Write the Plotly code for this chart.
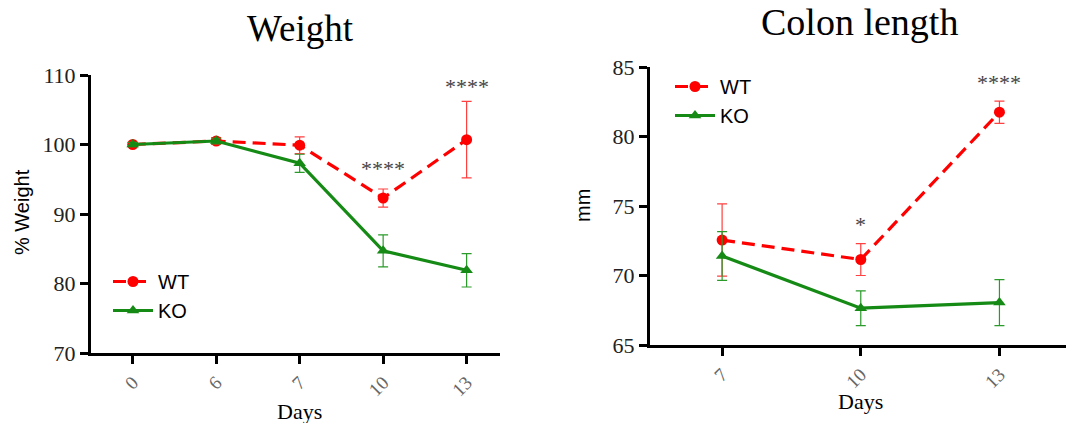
import plotly.graph_objects as go

# ---- data ----
weight_days = ["0", "6", "7", "10", "13"]
weight_wt = [100.0, 100.5, 99.9, 92.3, 100.7]
weight_wt_err = [0.3, 0.5, 1.2, 1.3, 5.5]
weight_ko = [100.0, 100.5, 97.3, 84.7, 81.9]
weight_ko_err = [0.3, 0.4, 1.3, 2.3, 2.4]
weight_sig = ["", "", "", "****", "****"]
weight_sig_y = [None, None, None, 96.6, 108.3]

colon_days = ["7", "10", "13"]
colon_wt = [72.55, 71.15, 81.75]
colon_wt_err = [2.6, 1.15, 0.8]
colon_ko = [71.4, 67.65, 68.05]
colon_ko_err = [1.75, 1.25, 1.65]
colon_sig = ["", "*", "****"]
colon_sig_y = [None, 73.7, 83.9]

RED = "#ff0000"
RED_ERR = "#ff4040"
GREEN = "#158a15"
GREEN_ERR = "#2a9a2a"
W, H = 1067, 423

def px_x(p):
    return p / W

def px_y(p):
    return 1 - p / H

fig = go.Figure()

def add_series(xaxis, yaxis, legend, cats, wt, wt_err, ko, ko_err):
    fig.add_trace(go.Scatter(
        x=cats, y=wt, name="WT", xaxis=xaxis, yaxis=yaxis, legend=legend,
        mode="lines+markers",
        line=dict(color=RED, width=3.2, dash="13px,7px"),
        marker=dict(symbol="circle", size=11, color=RED),
        error_y=dict(type="data", array=wt_err, visible=True, color=RED_ERR, thickness=1.2, width=5),
    ))
    fig.add_trace(go.Scatter(
        x=cats, y=ko, name="KO", xaxis=xaxis, yaxis=yaxis, legend=legend,
        mode="lines+markers",
        line=dict(color=GREEN, width=3.2),
        marker=dict(symbol="triangle-up", size=11, color=GREEN),
        error_y=dict(type="data", array=ko_err, visible=True, color=GREEN_ERR, thickness=1.2, width=5),
    ))

add_series("x", "y", "legend", weight_days, weight_wt, weight_wt_err, weight_ko, weight_ko_err)
add_series("x2", "y2", "legend2", colon_days, colon_wt, colon_wt_err, colon_ko, colon_ko_err)

serif = "Liberation Serif"
sans = "Liberation Sans"

axis_common = dict(
    showline=True, linecolor="black", linewidth=3,
    ticks="outside", ticklen=8, tickwidth=3, tickcolor="black",
    showgrid=False, zeroline=False, automargin=False,
)
xtick_font = dict(family=serif, size=19, color="#666666")
ytick_font = dict(family=serif, size=22, color="#222222")

fig.update_layout(
    width=W, height=H,
    margin=dict(l=0, r=0, t=0, b=0),
    plot_bgcolor="white", paper_bgcolor="white",
    xaxis=dict(domain=[px_x(91), px_x(500)], anchor="y", type="category",
               range=[-0.5, 4.4], tickangle=-45, tickfont=xtick_font, **axis_common),
    yaxis=dict(domain=[px_y(353), px_y(75)], anchor="x", range=[70, 110],
               tickvals=[70, 80, 90, 100, 110], tickfont=ytick_font, **axis_common),
    xaxis2=dict(domain=[px_x(650), px_x(1066)], anchor="y2", type="category",
                range=[-0.52, 2.48], tickangle=-45, tickfont=xtick_font, **axis_common),
    yaxis2=dict(domain=[px_y(345), px_y(67)], anchor="x2", range=[65, 85],
                tickvals=[65, 70, 75, 80, 85], tickfont=ytick_font, **axis_common),
    legend=dict(x=px_x(108), y=px_y(262), xanchor="left", yanchor="top",
                font=dict(family=sans, size=20, color="black"),
                bgcolor="rgba(0,0,0,0)", itemwidth=40, tracegroupgap=0),
    legend2=dict(x=px_x(670), y=px_y(67), xanchor="left", yanchor="top",
                 font=dict(family=sans, size=20, color="black"),
                 bgcolor="rgba(0,0,0,0)", itemwidth=40, tracegroupgap=0),
    showlegend=True,
)

def label(text, x, y, size, family, angle=0, color="black"):
    return dict(text=text, x=px_x(x), y=px_y(y), xref="paper", yref="paper",
                xanchor="center", yanchor="middle", textangle=angle,
                showarrow=False, font=dict(family=family, size=size, color=color))

annotations = [
    label("Weight", 300, 29, 37, serif),
    label("Colon length", 859, 22, 38, serif),
    label("% Weight", 22, 212, 20, sans, angle=-90),
    label("mm", 583, 205, 20, sans, angle=-90),
    label("Days", 299, 411, 22, serif),
    label("Days", 860, 401, 22, serif),
]
for i, (s, yv) in enumerate(zip(weight_sig, weight_sig_y)):
    if s:
        annotations.append(dict(text=s, x=i, y=yv, xref="x", yref="y", showarrow=False,
                                xanchor="center", yanchor="middle",
                                font=dict(family=serif, size=22, color="#444444")))
for i, (s, yv) in enumerate(zip(colon_sig, colon_sig_y)):
    if s:
        annotations.append(dict(text=s, x=i, y=yv, xref="x2", yref="y2", showarrow=False,
                                xanchor="center", yanchor="middle",
                                font=dict(family=serif, size=22, color="#444444")))
fig.update_layout(annotations=annotations)

fig.write_html("out.html")
